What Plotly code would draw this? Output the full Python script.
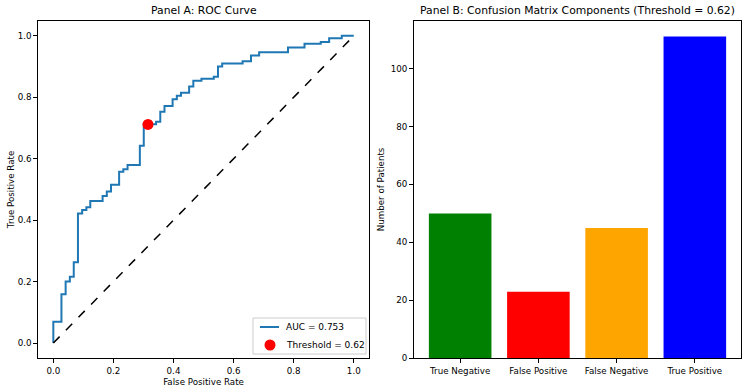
import plotly.graph_objects as go

# ROC curve step corners (FPR, TPR)
fpr = [0.0, 0.0, 0.027, 0.041, 0.055, 0.068, 0.082, 0.096, 0.110, 0.123, 0.164, 0.178,
       0.192, 0.219, 0.233, 0.247, 0.288, 0.301, 0.342, 0.356, 0.370, 0.397, 0.411,
       0.425, 0.452, 0.466, 0.493, 0.534, 0.548, 0.562, 0.630, 0.658, 0.685, 0.781,
       0.836, 0.890, 0.918, 0.960, 1.0]
tpr = [0.0, 0.069, 0.159, 0.200, 0.216, 0.263, 0.422, 0.433, 0.442, 0.462, 0.479, 0.493,
       0.515, 0.558, 0.566, 0.580, 0.642, 0.712, 0.720, 0.753, 0.772, 0.794, 0.805,
       0.815, 0.835, 0.854, 0.860, 0.867, 0.900, 0.910, 0.917, 0.936, 0.947, 0.962,
       0.974, 0.980, 0.992, 1.0, 1.0]
auc_label = "AUC = 0.753"
thr_fpr = [0.315]
thr_tpr = [0.7115]
thr_label = "Threshold = 0.62"

categories = ["True Negative", "False Positive", "False Negative", "True Positive"]
counts = [50, 23, 45, 111]
bar_colors = ["green", "red", "orange", "blue"]

FONT = "DejaVu Sans"
W, H = 750, 389
TICK = 8.7
LAB = 8.7
TITLE = 10.8
LEG = 9
ROC_BLUE = "#1f77b4"

fig = go.Figure()
fig.add_trace(go.Scatter(x=fpr, y=tpr, mode="lines", line=dict(color=ROC_BLUE, width=2, shape="hv"),
                         name=auc_label, showlegend=False, xaxis="x", yaxis="y"))
fig.add_trace(go.Scatter(x=[0, 1], y=[0, 1], mode="lines", line=dict(color="black", width=1.5, dash="dash"),
                         showlegend=False, xaxis="x", yaxis="y"))
fig.add_trace(go.Scatter(x=thr_fpr, y=thr_tpr, mode="markers", marker=dict(color="red", size=11),
                         name=thr_label, showlegend=False, xaxis="x", yaxis="y"))
fig.add_trace(go.Bar(x=list(range(len(categories))), y=counts, marker=dict(color=bar_colors, line=dict(width=0)),
                     width=0.8, showlegend=False, xaxis="x2", yaxis="y2"))

def px_x(p):
    return p / W

def px_y(p):
    return (H - p) / H

axis_common = dict(showgrid=False, zeroline=False, showline=True, linecolor="black", linewidth=1,
                   mirror=True, ticks="outside", ticklen=4, tickcolor="black", automargin=False,
                   tickfont=dict(family=FONT, size=TICK, color="black"))

# legend box (drawn like matplotlib's lower-right legend)
legend_shapes = [
    dict(type="rect", xref="paper", yref="paper", x0=px_x(253), x1=px_x(366), y0=px_y(354), y1=px_y(318),
         line=dict(color="#cccccc", width=1), fillcolor="rgba(255,255,255,0.8)", layer="above"),
    dict(type="line", xref="paper", yref="paper", x0=px_x(260), x1=px_x(279), y0=px_y(327), y1=px_y(327),
         line=dict(color=ROC_BLUE, width=2), layer="above"),
    dict(type="circle", xref="paper", yref="paper", x0=px_x(264.5), x1=px_x(275.5), y0=px_y(350.5), y1=px_y(339.5),
         line=dict(color="red", width=0), fillcolor="red", layer="above"),
]
legend_texts = [
    dict(text=auc_label, x=px_x(284), y=px_y(327), xref="paper", yref="paper", showarrow=False,
         xanchor="left", yanchor="middle", font=dict(family=FONT, size=LEG, color="black")),
    dict(text=thr_label, x=px_x(284), y=px_y(345), xref="paper", yref="paper", showarrow=False,
         xanchor="left", yanchor="middle", font=dict(family=FONT, size=LEG, color="black")),
]

fig.update_layout(
    width=W, height=H, margin=dict(l=0, r=0, t=0, b=0),
    paper_bgcolor="white", plot_bgcolor="white",
    font=dict(family=FONT, size=TICK, color="black"),
    showlegend=False,
    xaxis=dict(domain=[px_x(38.3), px_x(368.8)], range=[-0.05, 1.05], anchor="y",
               tickvals=[0, 0.2, 0.4, 0.6, 0.8, 1.0], tickformat=".1f",
               title=dict(text="False Positive Rate", font=dict(family=FONT, size=LAB), standoff=4),
               **axis_common),
    yaxis=dict(domain=[px_y(358.4), px_y(20.5)], range=[-0.05, 1.05], anchor="x",
               tickvals=[0, 0.2, 0.4, 0.6, 0.8, 1.0], tickformat=".1f",
               title=dict(text="True Positive Rate", font=dict(family=FONT, size=LAB), standoff=1),
               **axis_common),
    xaxis2=dict(domain=[px_x(414), px_x(741)], range=[-0.59, 3.59], anchor="y2",
                tickvals=list(range(len(categories))), ticktext=categories,
                **axis_common),
    yaxis2=dict(domain=[px_y(358.4), px_y(20.5)], range=[0, 116.55], anchor="x2",
                tickvals=[0, 20, 40, 60, 80, 100],
                title=dict(text="Number of Patients", font=dict(family=FONT, size=LAB), standoff=4),
                **axis_common),
    bargap=0.2,
    shapes=legend_shapes,
    annotations=[
        dict(text="Panel A: ROC Curve", x=(px_x(38.3) + px_x(368.8)) / 2, y=px_y(11),
             xref="paper", yref="paper", showarrow=False, xanchor="center", yanchor="middle",
             font=dict(family=FONT, size=TITLE, color="black")),
        dict(text="Panel B: Confusion Matrix Components (Threshold = 0.62)", x=(px_x(414) + px_x(741)) / 2,
             y=px_y(11), xref="paper", yref="paper", showarrow=False, xanchor="center", yanchor="middle",
             font=dict(family=FONT, size=TITLE, color="black")),
    ] + legend_texts,
)

fig.write_html("out.html")
